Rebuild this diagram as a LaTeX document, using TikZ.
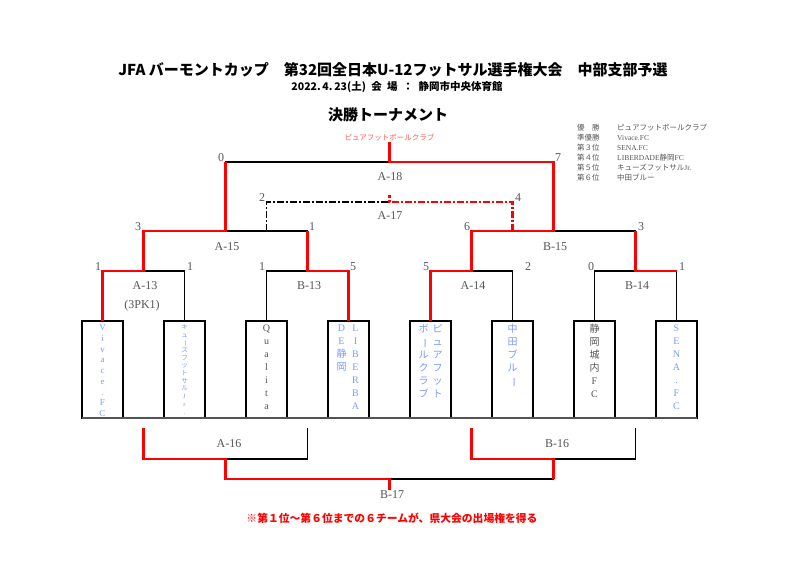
\documentclass[tikz,border=0pt]{standalone}
\usepackage{fontspec}
\setmainfont{Liberation Serif}
\newfontfamily\jp{Noto Sans CJK JP}
\usetikzlibrary{positioning,calc}

\definecolor{namecol}{HTML}{7D97FF}
\definecolor{labcol}{HTML}{555555}
\definecolor{champcol}{HTML}{FF5A5A}

% long vowel mark set upright for vertical names
\newcommand{\tatebo}{\rotatebox[origin=c]{-90}{ー}}

\begin{document}
\begin{tikzpicture}[
    x=1pt, y=-1pt,
    team/.style={rectangle, draw, line width=1.3pt, outer sep=0pt, inner sep=0pt, minimum width=41pt, minimum height=97pt},
    tname/.style={anchor=north, align=center, inner sep=0pt, text=namecol, font=\fontsize{10}{13}\selectfont},
    jname/.style={tname, font=\jp\fontsize{10}{13}\selectfont},
    tdark/.style={tname, text=labcol},
    game/.style={font=\fontsize{12}{12}\selectfont, text=labcol, inner sep=0pt},
    score/.style={game},
    lose/.style={line width=1.3pt},
    win/.style={red, line width=2.4pt},
    loseplay/.style={lose, dash pattern=on 7pt off 2pt on 2pt off 2pt},
    winplay/.style={win, dash pattern=on 7pt off 2pt on 2pt off 2pt},
    rank/.style={anchor=west, inner sep=0pt, text=labcol, font=\fontsize{7.5}{7.5}\selectfont}
]
\useasboundingbox (0,0) rectangle (800,585);

% Headings
\node[font=\fontsize{15}{15}\jp\bfseries] (title) at (393,70) {JFA バーモントカップ　第32回全日本U-12フットサル選手権大会　中部支部予選};
\node[font=\fontsize{10.5}{10.5}\jp\bfseries] (date) at (397,87) {2022.\,4.\,23(土)\enskip 会\enskip 場\enskip ：\enskip 静岡市中央体育館};
\node[font=\fontsize{15}{15}\jp\bfseries] (head) at (388,115) {決勝トーナメント};

% Final ranking
\node[rank] (rk1) at (577,128) {\jp 優　勝};
\node[rank] (rk2) at (577,138) {\jp 準優勝};
\node[rank] (rk3) at (577,148) {\jp 第３位};
\node[rank] (rk4) at (577,158) {\jp 第４位};
\node[rank] (rk5) at (577,168) {\jp 第５位};
\node[rank] (rk6) at (577,178) {\jp 第６位};
\node[rank] (rv1) at (617,128) {\jp ピュアフットボールクラブ};
\node[rank] (rv2) at (617,138) {Vivace.FC};
\node[rank] (rv3) at (617,148) {SENA.FC};
\node[rank] (rv4) at (617,158) {LIBERDADE{\jp 静岡}FC};
\node[rank] (rv5) at (617,168) {{\jp キューズフットサル}Jr.};
\node[rank] (rv6) at (617,178) {\jp 中田ブルー};

% Teams
\node[team, anchor=north] (t1) at (102.5,321) {};
\node[team, right=41pt of t1] (t2) {};
\node[team, right=41pt of t2] (t3) {};
\node[team, right=41pt of t3] (t4) {};
\node[team, right=41pt of t4] (t5) {};
\node[team, right=41pt of t5] (t6) {};
\node[team, right=41pt of t6] (t7) {};
\node[team, right=41pt of t7] (t8) {};
\draw[line width=1.8pt, labcol] (t1.south west) -- (t8.south east);

\node[tname, font=\fontsize{9}{10.75}\selectfont] (n1) at ([yshift=-3.5pt]t1.north) {V\\i\\v\\a\\c\\e\\.\\F\\C};
\node[jname, font=\jp\fontsize{6.5}{7.7}\selectfont] (n2) at ([yshift=-3pt]t2.north) {キ\\ュ\\\tatebo\\ズ\\フ\\ッ\\ト\\サ\\ル\\{\rmfamily J}\\{\rmfamily r}\\{\rmfamily .}};
\node[tdark] (n3) at ([yshift=-3.5pt]t3.north) {Q\\u\\a\\l\\i\\t\\a};
\node[tname] (n4a) at ([xshift=7pt, yshift=-3.5pt]t4.north) {L\\I\\B\\E\\R\\B\\A};
\node[tname] (n4b) at ([xshift=-7pt, yshift=-3.5pt]t4.north) {D\\E\\{\jp 静}\\{\jp 岡}};
\node[jname] (n5a) at ([xshift=7pt, yshift=-3pt]t5.north) {ピ\\ュ\\ア\\フ\\ッ\\ト};
\node[jname] (n5b) at ([xshift=-7pt, yshift=-3pt]t5.north) {ボ\\\tatebo\\ル\\ク\\ラ\\ブ};
\node[jname] (n6) at ([yshift=-3pt]t6.north) {中\\田\\ブ\\ル\\\tatebo};
\node[jname, text=labcol] (n7) at ([yshift=-3pt]t7.north) {静\\岡\\城\\内\\{\rmfamily F}\\{\rmfamily C}};
\node[tname] (n8) at ([yshift=-3.5pt]t8.north) {S\\E\\N\\A\\.\\F\\C};

% Junctions
\coordinate (j13) at (143.5,271);
\coordinate (jB13) at (307.5,271);
\coordinate (jA14) at (471.5,271);
\coordinate (jB14) at (635.5,271);
\coordinate (a15l) at (143.5,231);
\coordinate (a15r) at (307.5,231);
\coordinate (jA15) at (225.5,231);
\coordinate (b15l) at (471.5,231);
\coordinate (b15r) at (635.5,231);
\coordinate (jB15) at (553.5,231);
\coordinate (a18l) at (225.5,162);
\coordinate (a18r) at (553.5,162);
\coordinate (jA18) at (389.5,162);
\coordinate (a17l) at (266.5,231);
\coordinate (a17r) at (512.5,231);
\coordinate (jA17) at (389.5,202);
\coordinate (a16l) at (143.5,428);
\coordinate (a16r) at (307.5,428);
\coordinate (jA16) at (225.5,459);
\coordinate (b16l) at (471.5,428);
\coordinate (b16r) at (635.5,428);
\coordinate (jB16) at (553.5,459);
\coordinate (jB17) at (389.5,479);

% Champion
\node[font=\jp\fontsize{7.5}{7.5}\selectfont, text=champcol, anchor=south, inner sep=1pt] (champ) at (389.5,142) {ピュアフットボールクラブ};

% Bracket, all matches
\draw[lose] (t1.north) |- (j13) -| (t2.north);
\draw[lose] (t3.north) |- (jB13) -| (t4.north);
\draw[lose] (t5.north) |- (jA14) -| (t6.north);
\draw[lose] (t7.north) |- (jB14) -| (t8.north);
\draw[lose] (j13) -- (a15l) -- (a15r) -- (jB13);
\draw[lose] (jA14) -- (b15l) -- (b15r) -- (jB14);
\draw[lose] (jA15) -- (a18l) -- (a18r) -- (jB15);
\draw[loseplay] (a17l) |- (jA17);
\draw[lose] (a16l) |- (jA16) -| (a16r);
\draw[lose] (b16l) |- (jB16) -| (b16r);
\draw[lose] (jA16) |- (jB17) -| (jB16);

% Winners
\draw[win] (t1.north) |- (j13) -- (a15l) -- (jA15) -- (a18l);
\draw[win] (t4.north) |- (jB13) -- (a15r);
\draw[win] (t5.north) |- (jA14) -- (b15l) -- (jB15) -- (a18r) -- (jA18) -- (champ.south);
\draw[win] (t8.north |- jB14) -- (jB14) -- (b15r);
\draw[winplay] (a17r) |- (jA17) -- ++(0,-7);
\draw[win] (a16l) |- (jA16) |- (jB17) -- ++(0,11);
\draw[win] (b16l) |- (jB16) -- (jB16 |- jB17);

% Match labels
\node[game] (gA18) at (390,177) {A-18};
\node[game] (gA17) at (390,216) {A-17};
\node[game] (gA15) at (227,247) {A-15};
\node[game] (gB15) at (555,247) {B-15};
\node[game] (gA13) at (145,286) {A-13};
\node[game] (pk) at (142,306) {(3PK1)};
\node[game] (gB13) at (309,286) {B-13};
\node[game] (gA14) at (473,286) {A-14};
\node[game] (gB14) at (637,286) {B-14};
\node[game] (gA16) at (229,444) {A-16};
\node[game] (gB16) at (557,444) {B-16};
\node[game] (gB17) at (392,495) {B-17};

% Scores
\node[score] (s18a) at (221,158) {0};
\node[score] (s18b) at (558,158) {7};
\node[score] (s17a) at (262,198) {2};
\node[score] (s17b) at (518,198) {4};
\node[score] (s15a) at (138,227) {3};
\node[score] (s15b) at (312,227) {1};
\node[score] (s15c) at (467,227) {6};
\node[score] (s15d) at (641,227) {3};
\node[score] (s13a) at (98,267) {1};
\node[score] (s13b) at (190,267) {1};
\node[score] (s13c) at (262,267) {1};
\node[score] (s13d) at (353,267) {5};
\node[score] (s14a) at (426,267) {5};
\node[score] (s14b) at (528,267) {2};
\node[score] (s14c) at (591,267) {0};
\node[score] (s14d) at (682,267) {1};

% Note
\node[font=\fontsize{10.8}{10.8}\jp\bfseries, text=red] (note) at (392,518) {※第１位～第６位までの６チームが、県大会の出場権を得る};

\end{tikzpicture}
\end{document}
